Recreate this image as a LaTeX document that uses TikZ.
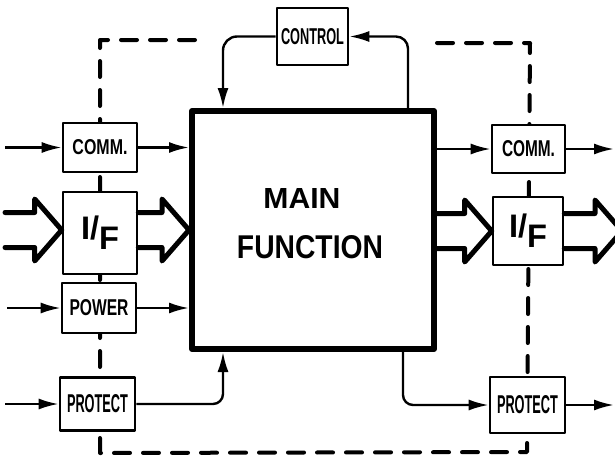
\documentclass[tikz,border=0pt]{standalone}
\usepackage{fontspec}
\setmainfont{Liberation Sans}
\usetikzlibrary{arrows.meta,calc}
\tikzset{
  box/.style={draw, line width=2.6pt, fill=white, inner sep=0pt, line join=round},
  mainbox/.style={draw, line width=6pt, fill=white, inner sep=0pt, line join=round},
  conn/.style={line width=2.4pt, -{Latex[length=20pt,width=11pt]}, line join=round},
  fat/.style={line width=5pt, line join=round, line cap=round},
  border/.style={line width=4pt, dash pattern=on 16pt off 13pt, line cap=round, line join=round},
  txt/.style={inner sep=0pt}
}
\newcommand{\lbl}[3]{\resizebox{#1pt}{#2pt}{\bfseries #3}}
\newcommand{\ifl}{\resizebox{38pt}{!}{\bfseries I/\raisebox{-0.3em}{F}}}
\newcommand{\fatarrow}[2]{\draw[fat] ($(#1)+(0,-17.5)$) -- ($(#2)+(-27,-17.5)$) -- ($(#2)+(-27,-31)$) -- (#2) -- ($(#2)+(-27,31)$) -- ($(#2)+(-27,17.5)$) -- ($(#1)+(0,17.5)$);}
\begin{document}
\begin{tikzpicture}[x=1pt,y=-1pt]
\clip (0,0) rectangle (615,458);
\fill[white] (0,0) rectangle (615,458);
% dashed boundary
\coordinate (d1) at (195,40);
\coordinate (d2) at (100,40);
\coordinate (d3) at (100,453);
\coordinate (d4) at (527,452);
\coordinate (d5) at (530,43);
\coordinate (d6) at (437,43);
\draw[border] (d1) -- (d2) -- (d3) -- (d4) -- (d5) -- (d6);
% boxes
\node[box, minimum width=74pt, minimum height=49pt] (commL) at (100,147.5) {\lbl{55}{15}{COMM.}};
\node[box, minimum width=74pt, minimum height=82pt] (ifL) at (100,233) {\ifl};
\node[box, minimum width=74pt, minimum height=50pt] (powerL) at (99,308) {\lbl{59}{16}{POWER}};
\node[box, minimum width=75pt, minimum height=53pt] (protL) at (97.5,404) {\lbl{61}{18}{PROTECT}};
\node[box, minimum width=71pt, minimum height=57pt] (control) at (312.5,36.5) {\lbl{63}{16}{CONTROL}};
\node[mainbox, minimum width=242pt, minimum height=238pt] (main) at (313,230) {};
\node[txt] (mainA) at (302,198) {\lbl{77}{20}{MAIN}};
\node[txt] (mainB) at (310,247) {\lbl{146}{23}{FUNCTION}};
\node[box, minimum width=73pt, minimum height=48pt] (commR) at (528.5,149) {\lbl{53}{16}{COMM.}};
\node[box, minimum width=70pt, minimum height=68pt] (ifR) at (528,231) {\ifl};
\node[box, minimum width=75pt, minimum height=56pt] (protR) at (527.5,405) {\lbl{61}{18}{PROTECT}};
% helper coordinates
\coordinate (inCommL) at (5,147.5);
\coordinate (inPowerL) at (7,308);
\coordinate (inProtL) at (5,404);
\coordinate (xa) at (223,0);
\coordinate (xb) at (408,0);
\coordinate (xc) at (403,0);
\coordinate (outCommR) at (614,149);
\coordinate (outProtR) at (614,405);
% connectors
\draw[conn] (inCommL) -- (commL.west);
\draw[conn] (commL.east) -- (commL.east -| main.west);
\draw[conn] (inPowerL) -- (powerL.west);
\draw[conn] (powerL.east) -- (powerL.east -| main.west);
\draw[conn] (inProtL) -- (protL.west);
\draw[conn, rounded corners=10pt] (protL.east) -| (main.south -| xa);
\draw[conn, rounded corners=14pt] (control.west) -| (main.north -| xa);
\draw[conn, rounded corners=12pt] (main.north -| xb) |- (control.east);
\draw[conn, rounded corners=10pt] (main.south -| xc) |- (protR.west);
\draw[conn] (commR.west -| main.east) -- (commR.west);
\draw[conn] (commR.east) -- (outCommR);
\draw[conn] (protR.east) -- (outProtR);
% fat interface arrows
\coordinate (fa1) at (5,230);
\coordinate (fb1) at (ifL.west |- fa1);
\coordinate (fa2) at (ifL.east |- fa1);
\coordinate (fb2) at (main.west |- fa1);
\coordinate (fa3) at (main.east |- ifR.west);
\coordinate (fb3) at (ifR.west);
\coordinate (fa4) at (ifR.east);
\coordinate (fb4) at (622,231);
\fatarrow{fa1}{fb1}
\fatarrow{fa2}{fb2}
\fatarrow{fa3}{fb3}
\fatarrow{fa4}{fb4}
\end{tikzpicture}
\end{document}
